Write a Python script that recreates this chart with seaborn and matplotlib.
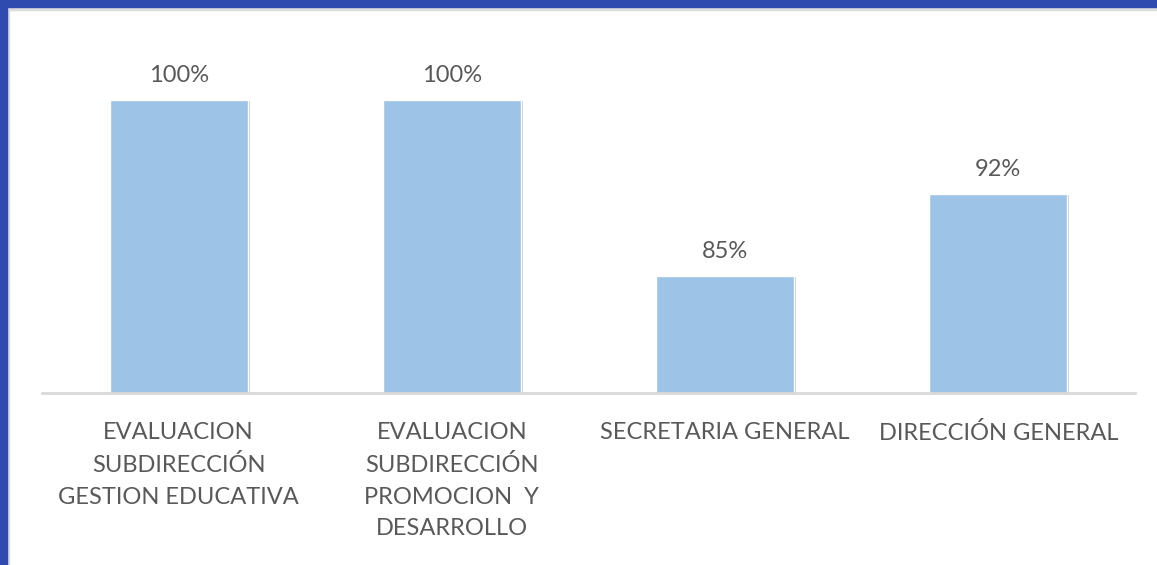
import matplotlib
matplotlib.use("Agg")
import matplotlib.pyplot as plt
import matplotlib.patheffects as pe
from matplotlib.patches import Rectangle
import seaborn as sns
import pandas as pd

categories = [
    "EVALUACION\nSUBDIRECCIÓN\nGESTION EDUCATIVA",
    "EVALUACION\nSUBDIRECCIÓN\nPROMOCION  Y\nDESARROLLO",
    "SECRETARIA GENERAL",
    "DIRECCIÓN GENERAL",
]
values = [100, 100, 85, 92]
value_labels = ["100%", "100%", "85%", "92%"]

sns.set_theme(style="white")
plt.rcParams["font.family"] = ["Lato", "DejaVu Sans"]

df = pd.DataFrame({"cat": categories, "val": values})

fig = plt.figure(figsize=(11.57, 5.65), dpi=100)
ax = fig.add_axes([42 / 1157, 1 - 393 / 565, (1135 - 42) / 1157, (393 - 41) / 565])

sns.barplot(data=df, x="cat", y="val", color="#9DC3E6", width=0.505, ax=ax,
            saturation=1)
for p in ax.patches:
    p.set_path_effects([pe.SimplePatchShadow(offset=(1.5, -1), shadow_rgbFace="#000000", alpha=0.2),
                        pe.Normal()])

ax.set_ylim(75, 105)
ax.set_xlim(-0.5, 3.5)
ax.set_xlabel("")
ax.set_ylabel("")
ax.set_yticks([])
for s in ["top", "right", "left"]:
    ax.spines[s].set_visible(False)
ax.spines["bottom"].set_color("#D9D9D9")
ax.spines["bottom"].set_linewidth(2)
ax.set_xticks(range(len(categories)))
ax.set_xticklabels(categories, linespacing=1.62)
ax.tick_params(axis="x", length=0, pad=21, labelsize=17, labelcolor="#595959")

for i, (v, lab) in enumerate(zip(values, value_labels)):
    ax.annotate(lab, (i, v), xytext=(0, 10), textcoords="offset points",
                ha="center", va="bottom", fontsize=17, color="#595959")

# frame borders
fig.patches.append(Rectangle((0, 1 - 7 / 565), 1, 7 / 565, transform=fig.transFigure,
                             color="#2F4BB0", zorder=10))
fig.patches.append(Rectangle((0, 1 - 10 / 565), 1, 3 / 565, transform=fig.transFigure,
                             color="#DCDCDC", zorder=9))
fig.patches.append(Rectangle((0, 0), 7 / 1157, 1, transform=fig.transFigure,
                             color="#2F4BB0", zorder=10))
fig.patches.append(Rectangle((7 / 1157, 0), 2 / 1157, 1, transform=fig.transFigure,
                             color="#DCDCDC", zorder=9))

fig.savefig("out.png", dpi=100)
